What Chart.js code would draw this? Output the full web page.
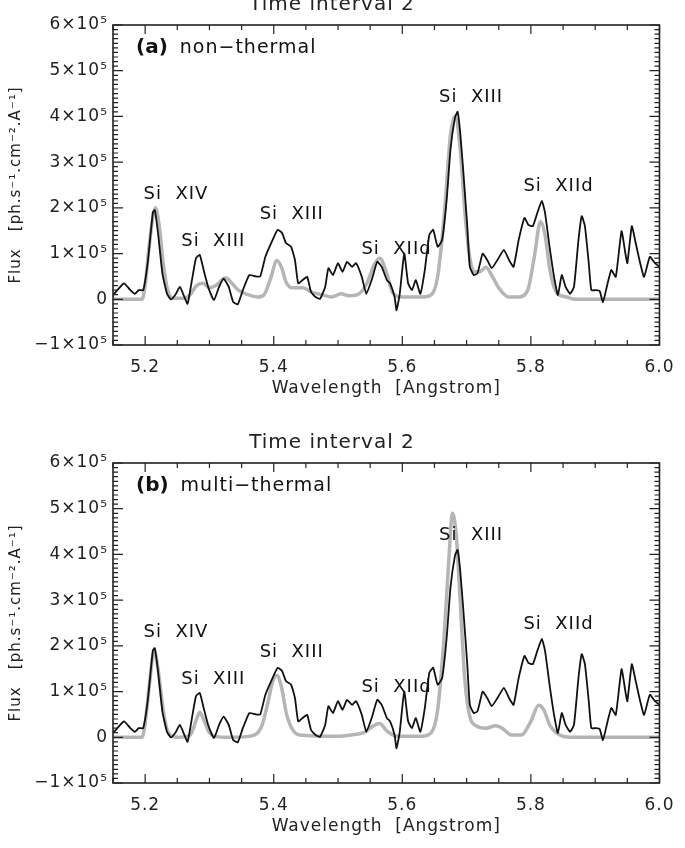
<!DOCTYPE html>
<html lang="en">
<head>
<meta charset="UTF-8">
<title>Time interval 2</title>
<script src="https://cdn.jsdelivr.net/npm/chart.js"></script>
<style>
  html, body { margin: 0; padding: 0; background: #fff; overflow: hidden; }
  .panel { position: absolute; left: 0; width: 685px; height: 438px; }
</style>
</head>
<body>
<div class="panel" style="top:-11px"><canvas id="chartA"></canvas></div>
<div class="panel" style="top:427px"><canvas id="chartB"></canvas></div>
<script>
// observed spectrum (same in both panels), flux in units of 1e5 ph/s/cm2/A
const wavelength = [
  5.150,5.167,5.177,5.184,5.190,5.197,5.204,5.212,5.215,5.220,
  5.227,5.234,5.240,5.247,5.254,5.261,5.266,5.271,5.279,5.285,
  5.291,5.298,5.307,5.315,5.322,5.330,5.337,5.344,5.352,5.362,
  5.372,5.379,5.387,5.396,5.406,5.413,5.419,5.427,5.433,5.438,
  5.445,5.452,5.458,5.465,5.472,5.480,5.485,5.492,5.500,5.507,
  5.514,5.522,5.528,5.537,5.544,5.553,5.561,5.568,5.576,5.581,
  5.588,5.591,5.596,5.603,5.609,5.615,5.621,5.628,5.635,5.642,
  5.648,5.655,5.662,5.669,5.675,5.682,5.686,5.690,5.695,5.701,
  5.705,5.711,5.717,5.725,5.732,5.739,5.748,5.758,5.766,5.773,
  5.781,5.790,5.796,5.803,5.810,5.817,5.822,5.829,5.836,5.842,
  5.848,5.854,5.861,5.867,5.874,5.879,5.884,5.890,5.894,5.901,
  5.907,5.912,5.918,5.925,5.932,5.941,5.947,5.950,5.957,5.963,
  5.970,5.976,5.985,5.993,6.000
];
const observed = [
  0.09,0.35,0.20,0.12,0.20,0.20,0.80,1.90,1.95,1.45,
  0.55,0.12,0.00,0.10,0.27,0.05,-0.10,0.27,0.90,0.97,
  0.64,0.27,-0.02,0.27,0.45,0.27,-0.06,-0.11,0.20,0.53,
  0.50,0.50,0.93,1.23,1.52,1.45,1.23,1.15,0.86,0.35,
  0.42,0.49,0.16,0.05,0.01,0.27,0.68,0.53,0.79,0.60,
  0.82,0.71,0.79,0.49,0.12,0.45,0.82,0.71,0.42,0.35,
  0.05,-0.24,0.12,1.00,0.35,0.20,0.42,0.12,0.64,1.41,
  1.52,1.15,1.30,2.18,3.29,3.98,4.10,3.65,2.77,1.60,
  0.71,0.53,0.57,1.00,0.86,0.68,0.86,1.08,0.86,0.71,
  1.30,1.78,1.63,1.60,1.89,2.15,1.89,1.15,0.49,0.09,
  0.53,0.27,0.12,0.27,1.30,1.82,1.60,0.79,0.20,0.20,
  0.18,-0.06,0.27,0.64,0.49,1.49,1.00,0.79,1.60,1.23,
  0.79,0.49,0.93,0.79,0.71
];

// (a) non-thermal model
const wlNonThermal = [
  5.150,5.195,5.200,5.205,5.212,5.216,5.222,5.228,5.235,5.245,
  5.260,5.270,5.280,5.290,5.300,5.310,5.325,5.335,5.345,5.360,
  5.375,5.385,5.395,5.405,5.412,5.420,5.430,5.445,5.460,5.475,
  5.490,5.505,5.515,5.530,5.545,5.556,5.565,5.575,5.585,5.600,
  5.630,5.645,5.655,5.665,5.675,5.682,5.690,5.698,5.705,5.712,
  5.720,5.730,5.740,5.750,5.765,5.780,5.795,5.805,5.815,5.822,
  5.830,5.840,5.855,5.870,6.000
];
const fluxNonThermal = [
  0,0,0.3,1.0,1.8,2.0,1.6,0.8,0.2,0.02,
  0.02,0.1,0.3,0.35,0.25,0.3,0.47,0.35,0.2,0.1,
  0.05,0.1,0.45,0.85,0.7,0.35,0.25,0.25,0.15,0.1,
  0.05,0.12,0.08,0.1,0.35,0.75,0.9,0.6,0.15,0.05,
  0.05,0.1,0.5,1.8,3.6,4.0,3.3,1.8,0.9,0.6,
  0.6,0.7,0.5,0.25,0.05,0.05,0.2,0.9,1.7,1.4,
  0.6,0.15,0.05,0,0
];

// (b) multi-thermal model
const wlMultiThermal = [
  5.150,5.195,5.200,5.207,5.214,5.220,5.228,5.236,5.250,5.270,
  5.280,5.285,5.292,5.300,5.310,5.330,5.360,5.380,5.390,5.398,
  5.405,5.412,5.420,5.430,5.440,5.500,5.520,5.540,5.555,5.565,
  5.575,5.590,5.630,5.645,5.655,5.665,5.672,5.678,5.684,5.690,
  5.697,5.705,5.715,5.730,5.745,5.755,5.770,5.785,5.800,5.812,
  5.820,5.830,5.845,5.860,6.000
];
const fluxMultiThermal = [
  0,0,0.3,1.2,1.9,1.5,0.6,0.1,0,0.05,
  0.4,0.55,0.35,0.1,0.02,0,0.02,0.2,0.7,1.2,
  1.35,1.1,0.5,0.15,0.05,0.02,0.05,0.1,0.25,0.3,
  0.15,0.03,0.02,0.1,0.6,2.2,3.8,4.9,4.4,3.0,
  1.3,0.45,0.25,0.2,0.25,0.2,0.05,0.05,0.35,0.7,
  0.6,0.25,0.05,0,0
];

const xTicks = [5.2, 5.4, 5.6, 5.8, 6.0];
const yTicks = [-1, 0, 1, 2, 3, 4, 5, 6];

// line identifications
const lineNames = ['Si  XIV', 'Si  XIII', 'Si  XIII', 'Si  XIId', 'Si  XIII', 'Si  XIId'];
const lineX = [5.248, 5.306, 5.428, 5.591, 5.707, 5.843];
const lineY = [2.30, 1.26, 1.85, 1.10, 4.42, 2.47];

const FONT = 'DejaVu Sans';

function pairs(xs, ys) {
  return xs.map((x, i) => ({x: x, y: ys[i]}));
}

// IDL style box with inward ticks plus the labels
const framePlugin = {
  id: 'frame',
  beforeDraw(chart) {
    // the IDL vector font is spaced out a bit
    chart.ctx.letterSpacing = '1px';
  },
  afterDatasetsDraw(chart, args, opts) {
    const ctx = chart.ctx;
    const a = chart.chartArea;
    const xs = chart.scales.x, ys = chart.scales.y;
    ctx.save();
    ctx.strokeStyle = '#222';
    ctx.lineWidth = 1.6;
    ctx.strokeRect(a.left, a.top, a.right - a.left, a.bottom - a.top);
    ctx.lineWidth = 1.2;
    ctx.beginPath();
    for (let k = 0; k <= 17; k++) {
      const v = 5.15 + k * 0.05;
      const px = xs.getPixelForValue(v);
      const len = (k % 4 === 1) ? 9 : 5;
      ctx.moveTo(px, a.bottom); ctx.lineTo(px, a.bottom - len);
      ctx.moveTo(px, a.top); ctx.lineTo(px, a.top + len);
    }
    for (let k = 0; k <= 70; k++) {
      const v = -1 + k * 0.1;
      const py = ys.getPixelForValue(v);
      const len = (k % 10 === 0) ? 10 : 5;
      ctx.moveTo(a.left, py); ctx.lineTo(a.left + len, py);
      ctx.moveTo(a.right, py); ctx.lineTo(a.right - len, py);
    }
    ctx.stroke();

    ctx.fillStyle = '#111';
    ctx.textAlign = 'center';
    ctx.textBaseline = 'middle';
    ctx.font = '18px "' + FONT + '"';
    lineNames.forEach((t, i) => {
      ctx.fillText(t, xs.getPixelForValue(lineX[i]), ys.getPixelForValue(lineY[i]));
    });

    ctx.textAlign = 'left';
    ctx.letterSpacing = '0px';
    ctx.font = 'bold 20px "' + FONT + '"';
    ctx.fillText(opts.tag, a.left + 23, a.top + 23);
    const w = ctx.measureText(opts.tag).width;
    ctx.letterSpacing = '1px';
    ctx.font = '19px "' + FONT + '"';
    ctx.fillText(opts.note, a.left + 23 + w + 12, a.top + 23);
    ctx.restore();
  }
};

function makeChart(id, wlModel, fluxModel, tag, note) {
  return new Chart(document.getElementById(id), {
    type: 'line',
    data: {
      datasets: [
        {
          label: 'observed',
          data: pairs(wavelength, observed),
          borderColor: '#111',
          borderWidth: 1.8,
          pointRadius: 0,
          tension: 0.15
        },
        {
          label: 'model',
          data: pairs(wlModel, fluxModel),
          borderColor: '#b5b5b5',
          borderWidth: 3.5,
          pointRadius: 0,
          cubicInterpolationMode: 'monotone'
        }
      ]
    },
    options: {
      responsive: true,
      maintainAspectRatio: false,
      animation: false,
      layout: {padding: {left: 0, right: 21, top: 0, bottom: 0}},
      plugins: {
        legend: {display: false},
        tooltip: {enabled: false},
        title: {
          display: true,
          text: 'Time interval 2',
          color: '#222',
          font: {family: FONT, size: 20, weight: 'normal'},
          padding: {top: 4, bottom: 8}
        },
        frame: {tag: tag, note: note}
      },
      scales: {
        x: {
          type: 'linear',
          min: 5.15,
          max: 6.0,
          grid: {display: false, drawTicks: false},
          border: {display: false},
          afterBuildTicks: s => { s.ticks = xTicks.map(v => ({value: v})); },
          afterFit: s => { s.height = 82; },
          ticks: {
            color: '#222',
            padding: 12,
            maxRotation: 0,
            font: {family: FONT, size: 17},
            callback: v => Number(v).toFixed(1)
          },
          title: {
            display: true,
            text: 'Wavelength  [Angstrom]',
            color: '#222',
            font: {family: FONT, size: 17},
            padding: {top: 28, bottom: 28}
          }
        },
        y: {
          min: -1,
          max: 6,
          grid: {display: false, drawTicks: false},
          border: {display: false},
          afterBuildTicks: s => { s.ticks = yTicks.map(v => ({value: v})); },
          afterFit: s => { s.width = 113; },
          ticks: {
            color: '#222',
            padding: 5,
            font: {family: FONT, size: 17},
            callback: v => v === 0 ? '0' : (v < 0 ? '\u2212' : '') + Math.abs(v) + '\u00d710\u2075'
          },
          title: {
            display: true,
            text: 'Flux   [ph.s\u207b\u00b9.cm\u207b\u00b2.A\u207b\u00b9]',
            color: '#222',
            font: {family: FONT, size: 15},
            padding: {top: 7, bottom: 7}
          }
        }
      }
    },
    plugins: [framePlugin]
  });
}

makeChart('chartA', wlNonThermal, fluxNonThermal, '(a)', 'non\u2212thermal');
makeChart('chartB', wlMultiThermal, fluxMultiThermal, '(b)', 'multi\u2212thermal');
</script>
</body>
</html>
